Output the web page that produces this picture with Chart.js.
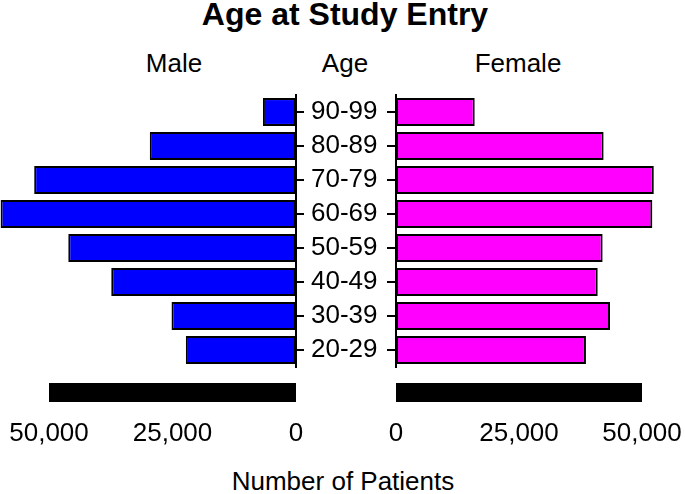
<!DOCTYPE html>
<html>
<head>
<meta charset="utf-8">
<title>Age at Study Entry</title>
<script src="https://cdn.jsdelivr.net/npm/chart.js@4.4.1/dist/chart.umd.min.js"></script>
<style>
  body { margin: 0; background: #fff; }
  #wrap { position: relative; width: 685px; height: 494px; overflow: hidden;
          font-family: "Liberation Sans", Arial, sans-serif; color: #000; }
  .lbl { position: absolute; width: 400px; text-align: center; line-height: 1; white-space: nowrap; }
  .box { position: absolute; top: 0; height: 494px; }
</style>
</head>
<body>
<div id="wrap">
  <div class="lbl" style="left:145px; top:-2px; font-size:32px; font-weight:bold;">Age at Study Entry</div>
  <div class="lbl" style="left:-26px; top:50px; font-size:26px;">Male</div>
  <div class="lbl" style="left:145px; top:50px; font-size:26px;">Age</div>
  <div class="lbl" style="left:318px; top:50px; font-size:26px;">Female</div>
  <div class="lbl" style="left:143px; top:468px; font-size:26px;">Number of Patients</div>
  <div class="box" style="left:0; width:385px;"><canvas id="maleChart"></canvas></div>
  <div class="box" style="left:380px; width:305px;"><canvas id="femaleChart"></canvas></div>
</div>
<script>
var ageGroups = ['20-29', '30-39', '40-49', '50-59', '60-69', '70-79', '80-89', '90-99'];
var malePatients = [22300, 25200, 37400, 46100, 59800, 53000, 29600, 6700];
var femalePatients = [38600, 43500, 41000, 42000, 52100, 52400, 42200, 16000];
var xTicks = [0, 25000, 50000];

Chart.defaults.font.family = '"Liberation Sans", Arial, sans-serif';
Chart.defaults.font.size = 26;
Chart.defaults.color = '#000';

// thick black bar under the bars, spanning the tick range of the x scale
var axisBar = {
  id: 'axisBar',
  afterDatasetsDraw: function(chart) {
    var s = chart.scales.x;
    var a = s.getPixelForValue(xTicks[0]);
    var b = s.getPixelForValue(xTicks[xTicks.length - 1]);
    var c = chart.ctx;
    c.save();
    c.fillStyle = '#000';
    c.fillRect(Math.min(a, b), s.top + 16, Math.abs(b - a), 19);
    c.restore();
  }
};

function sideChart(id, values, colour, male) {
  var ctx = document.getElementById(id).getContext('2d');
  return new Chart(ctx, {
    type: 'bar',
    data: {
      labels: ageGroups,
      datasets: [{
        data: values,
        backgroundColor: colour,
        borderColor: '#000',
        borderWidth: 2,
        borderSkipped: false,
        barPercentage: 0.82,
        categoryPercentage: 1,
        clip: false
      }]
    },
    options: {
      indexAxis: 'y',
      responsive: true,
      maintainAspectRatio: false,
      animation: false,
      layout: { padding: male ? { left: 49, top: 95, right: 0, bottom: 0 } : { left: 0, top: 95, right: 43, bottom: 0 } },
      plugins: { legend: { display: false }, tooltip: { enabled: false } },
      scales: {
        x: {
          type: 'linear',
          min: xTicks[0],
          max: xTicks[xTicks.length - 1],
          reverse: male,
          afterBuildTicks: function(s) { s.ticks = xTicks.map(function(v) { return { value: v }; }); },
          afterFit: function(s) {
            s.height = 127;
            s.paddingLeft = 0;
            s.paddingRight = 0;
          },
          grid: { display: false, drawTicks: false },
          border: { display: false },
          ticks: {
            padding: 51,
            maxRotation: 0,
            autoSkip: false,
            callback: function(v) { return v.toLocaleString('en-US'); }
          }
        },
        y: {
          position: male ? 'right' : 'left',
          reverse: true,
          afterFit: function(s) {
            s.width = male ? 89 : 16;
            s.paddingTop = 0;
            s.paddingBottom = 0;
          },
          grid: { drawOnChartArea: false, offset: false, tickLength: male ? 8 : 9, lineWidth: 2, color: '#000' },
          border: { width: 2, color: '#000' },
          ticks: { display: male, padding: 7, autoSkip: false }
        }
      }
    },
    plugins: [axisBar]
  });
}

var maleChart = sideChart('maleChart', malePatients, '#0000ff', true);
var femaleChart = sideChart('femaleChart', femalePatients, '#ff00ff', false);
</script>
</body>
</html>
